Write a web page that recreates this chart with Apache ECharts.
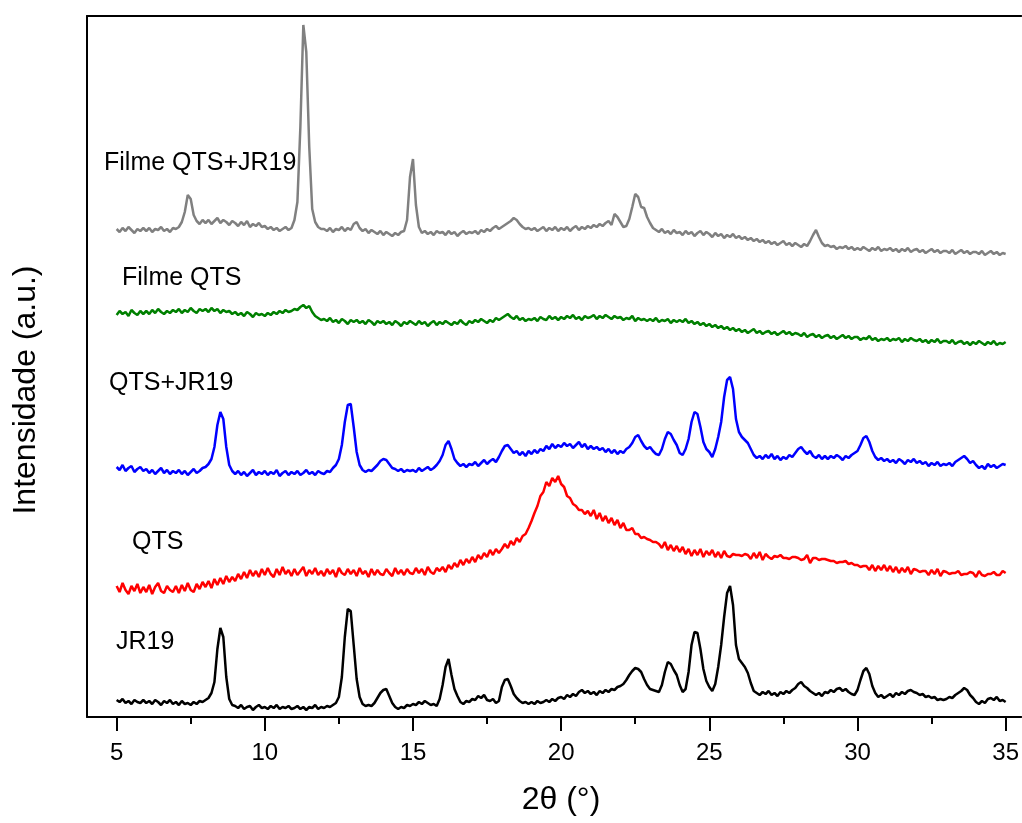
<!DOCTYPE html>
<html>
<head>
<meta charset="utf-8">
<script src="https://cdn.jsdelivr.net/npm/echarts@6/dist/echarts.min.js"></script>
<style>
  html, body { margin: 0; padding: 0; background: #fff; }
  #chart { width: 1022px; height: 823px; }
</style>
</head>
<body>
<div id="chart"></div>
<script>
// 2theta sampling: 5.0 .. 35.0, step 0.1
var thetaStart = 5;
var thetaStep = 0.1;
var xTickValues = [5, 10, 15, 20, 25, 30, 35];
var xMinorTicks = [7.5, 12.5, 17.5, 22.5, 27.5, 32.5];

// intensities (a.u., offset per curve), one row per degree
var jr19 = [
  17, 15, 18, 14, 16, 13, 17, 15, 14, 17,
  14, 16, 13, 17, 15, 12, 16, 14, 17, 13,
  15, 12, 16, 13, 14, 12, 15, 13, 16, 15,
  17, 19, 24, 35, 68, 89, 80, 40, 18, 12,
  11, 9, 12, 8, 10, 11, 7, 10, 12, 9,
  10, 8, 11, 9, 12, 8, 10, 9, 11, 8,
  9, 11, 8, 10, 7, 10, 9, 12, 8, 10,
  9, 11, 10, 12, 14, 20, 40, 80, 108, 106,
  72, 38, 20, 13, 11, 12, 11, 14, 19, 24,
  27, 28, 21, 14, 10, 8, 10, 9, 12, 11,
  13, 12, 15, 13, 16, 14, 12, 13, 11, 18,
  32, 50, 58, 42, 28, 21, 15, 13, 16, 15,
  18, 17, 21, 19, 22, 17, 16, 18, 14, 16,
  30, 37, 38, 31, 23, 19, 16, 14, 15, 13,
  15, 13, 16, 14, 15, 17, 15, 18, 16, 19,
  20, 18, 22, 20, 23, 21, 25, 27, 24, 26,
  23, 25, 22, 26, 24, 27, 25, 28, 27, 30,
  31, 33, 37, 42, 46, 49, 48, 45, 38, 32,
  28, 27, 26, 25, 32, 45, 55, 53, 47, 42,
  32, 25, 28, 45, 72, 85, 84, 68, 48, 36,
  30, 26, 33, 50, 72, 100, 124, 131, 112, 72,
  58, 54, 50, 44, 34, 26, 24, 22, 25, 23,
  26, 22, 24, 21, 25, 23, 26, 24, 27, 29,
  33, 35, 31, 29, 26, 24, 22, 24, 21, 25,
  24, 27, 25, 28, 29, 26, 28, 25, 23, 22,
  27, 37, 46, 49, 43, 31, 24, 20, 22, 19,
  21, 23, 20, 24, 22, 25, 23, 26, 27, 25,
  24, 22, 23, 20, 21, 19, 20, 17, 18, 17,
  18, 20, 19, 22, 24, 26, 29, 27, 22, 19,
  15, 13, 16, 14, 18, 19, 17, 20, 16, 17,
  15
];

var qts = [
  131, 125, 134, 127, 123, 131, 126, 133, 124, 130,
  125, 132, 123, 130, 134, 126, 124, 131, 127, 125,
  131, 124, 132, 126, 134, 127, 125, 133, 128, 135,
  130, 136, 129, 138, 132, 139, 133, 141, 135, 140,
  136, 143, 138, 145, 139, 147, 141, 146, 140, 148,
  142, 149, 143, 140, 148, 142, 150, 143, 147, 141,
  148, 142, 146, 150, 141, 147, 143, 149, 142, 146,
  141, 148, 143, 147, 140, 149, 144, 142, 148, 143,
  147, 141, 149, 143, 146, 140, 148, 142, 147, 143,
  142, 148, 144, 141, 149, 143, 147, 142, 148, 144,
  143, 149, 144, 148, 142, 150, 145, 143, 149, 146,
  150, 145, 152, 148, 154, 150, 157, 152, 158, 154,
  160, 155, 162, 158, 164, 160, 167, 162, 168, 164,
  168, 173, 169, 176, 172, 179, 175, 181, 183, 189,
  196, 204, 211, 221, 225, 235, 231, 239, 235, 241,
  233, 230, 221, 219, 213, 211, 207, 207, 203, 206,
  201, 207, 198, 204, 196, 201, 194, 199, 192, 197,
  189, 194, 187, 187, 189, 183, 183, 179, 180, 178,
  177, 175, 175, 173, 169, 175, 167, 172, 166, 171,
  165, 170, 163, 168, 161, 167, 162, 168, 160, 166,
  162, 167, 160, 165, 159, 166, 161, 160, 163, 162,
  162, 161, 163, 162, 158, 164, 159, 165, 157, 163,
  160, 158, 161, 160, 162, 159, 159, 158, 160, 160,
  159, 157, 158, 162, 154, 159, 159, 157, 158, 158,
  157, 156, 156, 154, 155, 155, 156, 153, 154, 152,
  152, 150, 151, 151, 147, 152, 146, 151, 147, 152,
  146, 151, 145, 150, 144, 149, 145, 150, 143, 148,
  147, 145, 146, 146, 142, 147, 143, 148, 141, 146,
  145, 143, 144, 144, 146, 142, 143, 143, 145, 144,
  140, 146, 142, 141, 143, 143, 145, 142, 142, 146,
  144
];

var qtsJr19 = [
  250, 247, 252, 246, 249, 251, 245, 248, 250, 246,
  248, 244, 247, 243, 246, 249, 244, 247, 243, 246,
  244, 247, 243, 246, 242, 245, 248, 244, 246, 249,
  250, 253, 258, 270, 292, 305, 298, 270, 252, 246,
  243, 246, 242, 245, 241, 244, 247, 242, 245, 243,
  246, 242, 245, 243, 247, 241, 244, 246, 242, 245,
  243, 246, 242, 244, 247, 243, 245, 242, 246, 244,
  243, 246, 245, 249, 252, 258, 272, 295, 312, 313,
  290, 265, 252, 247, 245, 247, 246, 249, 252, 256,
  258, 257, 253, 249, 248, 246, 248, 245, 247, 246,
  247, 245, 249, 246, 248, 250, 247, 249, 252, 256,
  262, 272, 276, 268, 258, 254, 251, 253, 250, 253,
  252, 255, 251, 254, 257, 253, 256, 258, 255, 260,
  266, 271, 272, 268, 264, 266, 262, 265, 261, 266,
  263, 267, 264, 268, 266, 271, 268, 273, 269, 272,
  270, 274, 271, 273, 269, 272, 275, 270, 273, 268,
  271, 268, 270, 267, 269, 265, 268, 264, 267, 263,
  266, 264, 268, 270, 274, 280, 282, 276, 271, 268,
  270, 266, 263, 262, 268, 278, 285, 283, 277, 272,
  264, 262, 268, 278, 295, 305, 303, 290, 275, 268,
  265, 260, 268, 280, 295, 320, 337, 340, 328, 298,
  285, 280, 277, 274, 268, 262, 259, 261, 258, 262,
  259, 263, 258, 261, 257, 260, 258, 262, 260, 264,
  268, 270, 266, 263, 266, 261, 259, 262, 258, 261,
  258, 261, 259, 262, 260, 257, 261, 259, 262, 264,
  266, 272, 279, 281, 275, 266, 260, 257, 259, 256,
  258, 255, 257, 254, 258, 256, 253, 257, 255, 258,
  254, 256, 253, 255, 251, 254, 252, 255, 251, 253,
  252, 254, 251, 255, 257, 259, 261, 258, 254, 256,
  252, 249, 251, 248, 253, 250, 252, 249, 251, 253,
  252
];

var filmeQts = [
  402, 406, 403, 405, 401, 407, 404, 402, 406, 403,
  406, 403, 407, 404, 408, 405, 403, 406, 404, 407,
  405, 408, 404, 407, 405, 409, 406, 404, 408, 406,
  408, 405, 409, 406, 408, 404, 407, 405, 406, 403,
  405, 402, 404, 401, 405, 403, 400, 404, 402, 403,
  401, 404, 402, 405, 403, 406, 404, 407, 405, 406,
  408, 407, 410, 412, 409, 411, 405, 401, 399, 397,
  398, 396, 399, 395, 397, 394, 398, 396, 393, 397,
  395, 397, 394, 396, 393, 397, 395, 392, 396, 394,
  396, 393, 395, 392, 396, 394, 391, 395, 393, 396,
  394, 392, 396, 393, 395, 391, 394, 396, 392, 395,
  393, 396, 394, 392, 395, 393, 397, 394, 392, 396,
  394, 397, 395, 398, 396, 394, 397, 395, 399, 397,
  399, 401, 403, 400, 398, 401, 397, 399, 396, 398,
  397, 399, 396, 400, 398, 397, 401, 398, 400, 397,
  400, 398, 401, 399, 402, 398, 400, 397, 401, 399,
  400, 402, 398, 401, 399, 402, 400, 398, 401, 399,
  400, 397, 399, 398, 401, 396, 399, 397, 398, 396,
  398, 396, 399, 395, 397, 396, 398, 394, 397, 395,
  397, 395, 398, 394, 396, 393, 395, 392, 394, 391,
  393, 390, 392, 389, 391, 388, 390, 387, 389, 386,
  388, 385, 387, 384, 386, 388, 384, 386, 383, 385,
  386, 383, 385, 382, 384, 386, 383, 385, 382, 384,
  383, 381, 384, 380, 382, 383, 380, 382, 379, 381,
  382, 379, 381, 378, 380, 382, 379, 381, 378, 380,
  380, 377, 379, 378, 381, 377, 379, 376, 378, 377,
  379, 376, 378, 377, 379, 375, 378, 376, 379, 377,
  376, 378, 375, 377, 374, 377, 375, 378, 374, 376,
  376, 374, 377, 373, 375, 376, 373, 375, 372, 375,
  373, 376, 374, 372, 375, 373, 376, 372, 374, 373,
  375
];

var filmeQtsJr19 = [
  488, 485, 489, 486, 490, 487, 484, 488, 486, 489,
  486, 489, 485, 488, 487, 490, 486, 488, 485, 489,
  488, 490, 495, 505, 522, 518, 502, 496, 493, 497,
  494, 497, 493, 496, 499, 494, 497, 495, 492, 496,
  494, 491, 495, 492, 496, 490, 493, 491, 494, 490,
  491, 488, 490, 487, 489, 486, 488, 490, 487, 489,
  497, 515, 590, 692, 665, 570, 508, 495, 490, 488,
  488, 486, 489, 485, 488, 487, 490, 486, 489, 487,
  493, 495, 489, 486, 488, 484, 487, 485, 483, 486,
  482, 485, 483, 481, 484, 482, 485, 486, 497, 540,
  558, 512, 490, 484, 486, 483, 485, 482, 486, 484,
  485, 482, 486, 483, 485, 481, 484, 486, 483, 485,
  484, 486, 483, 487, 485, 488, 486, 489, 491, 488,
  490, 492, 494, 496, 499, 497, 493, 490, 488, 489,
  487, 489, 486, 488, 490, 486, 489, 487, 490, 486,
  489, 487, 490, 486, 489, 491, 487, 490, 488, 491,
  489, 492, 490, 493, 491, 494, 496, 492, 503, 500,
  495, 490, 491, 498, 510, 523, 520, 510, 509, 500,
  494, 489, 487, 485, 488, 484, 486, 483, 487, 484,
  485, 482, 486, 483, 485, 481, 484, 486, 482, 485,
  483, 480, 484, 481, 483, 479, 482, 480, 483, 479,
  481, 478, 480, 477, 479, 476, 478, 475, 477, 474,
  476, 473, 475, 472, 474, 476, 472, 474, 471, 474,
  472, 470, 473, 471, 476, 482, 487, 480, 474, 471,
  472, 470, 471, 468, 470, 469, 471, 468, 470, 467,
  469, 467, 470, 468, 466, 469, 467, 470, 466, 468,
  467, 469, 466, 468, 465, 468, 466, 469, 465, 467,
  468, 465, 467, 464, 466, 468, 465, 467, 464, 466,
  466, 464, 467, 463, 465, 467, 464, 466, 463, 465,
  465, 463, 466, 462, 464, 466, 463, 465, 462, 464,
  463
];

var curveNames = ['JR19', 'QTS', 'QTS+JR19', 'Filme QTS', 'Filme QTS+JR19'];
var curveColors = ['#000000', '#ff0000', '#0000ff', '#008000', '#808080'];
var curves = [jr19, qts, qtsJr19, filmeQts, filmeQtsJr19];

function toPairs(values) {
  return values.map(function (v, i) {
    return [Math.round((thetaStart + i * thetaStep) * 10) / 10, v];
  });
}

var font = '"Liberation Sans", Arial, sans-serif';
var xMin = 4, xMax = 35.53;
var myChart = echarts.init(document.getElementById('chart'));

// the original frame is cut at the right edge: draw only left, top and bottom lines
myChart.setOption({
  animation: false,
  backgroundColor: '#ffffff',
  grid: {
    left: 87,
    top: 16,
    width: 935,
    height: 701,
    show: false
  },
  xAxis: [
    {
      type: 'value',
      min: xMin,
      max: xMax,
      axisLine: { show: true, lineStyle: { color: '#000', width: 2 } },
      axisTick: {
        show: true,
        customValues: xTickValues,
        length: 14,
        lineStyle: { color: '#000', width: 2 }
      },
      axisLabel: {
        customValues: xTickValues,
        color: '#000',
        fontSize: 24,
        fontFamily: font,
        margin: 24
      },
      splitLine: { show: false }
    },
    {
      type: 'value',
      min: xMin,
      max: xMax,
      position: 'bottom',
      axisLine: { show: false },
      axisTick: {
        show: true,
        customValues: xMinorTicks,
        length: 7,
        lineStyle: { color: '#000', width: 2 }
      },
      axisLabel: { show: false },
      splitLine: { show: false }
    },
    {
      type: 'value',
      min: xMin,
      max: xMax,
      position: 'top',
      axisLine: { show: true, onZero: false, lineStyle: { color: '#000', width: 2 } },
      axisTick: { show: false },
      axisLabel: { show: false },
      splitLine: { show: false }
    }
  ],
  yAxis: {
    type: 'value',
    min: 0,
    max: 701,
    axisLine: { show: true, onZero: false, lineStyle: { color: '#000', width: 2 } },
    axisTick: { show: false },
    axisLabel: { show: false },
    splitLine: { show: false }
  },
  graphic: [
    { type: 'text', x: 104, y: 163, style: { text: 'Filme QTS+JR19', fontSize: 25, fontFamily: font, fill: '#000', verticalAlign: 'middle' } },
    { type: 'text', x: 122, y: 278, style: { text: 'Filme QTS', fontSize: 25, fontFamily: font, fill: '#000', verticalAlign: 'middle' } },
    { type: 'text', x: 109, y: 383, style: { text: 'QTS+JR19', fontSize: 25, fontFamily: font, fill: '#000', verticalAlign: 'middle' } },
    { type: 'text', x: 132, y: 542, style: { text: 'QTS', fontSize: 25, fontFamily: font, fill: '#000', verticalAlign: 'middle' } },
    { type: 'text', x: 116, y: 642, style: { text: 'JR19', fontSize: 25, fontFamily: font, fill: '#000', verticalAlign: 'middle' } },
    { type: 'text', x: 26, y: 390, rotation: Math.PI / 2, style: { text: 'Intensidade (a.u.)', fontSize: 32, fontFamily: font, fill: '#000', align: 'center', verticalAlign: 'middle' } },
    { type: 'text', x: 561, y: 800, style: { text: '2θ (°)', fontSize: 32, fontFamily: font, fill: '#000', align: 'center', verticalAlign: 'middle' } }
  ],
  series: curves.map(function (vals, k) {
    return {
      name: curveNames[k],
      type: 'line',
      xAxisIndex: 0,
      showSymbol: false,
      symbol: 'none',
      data: toPairs(vals),
      lineStyle: { color: curveColors[k], width: 2.5 },
      itemStyle: { color: curveColors[k] }
    };
  })
});
</script>
</body>
</html>
